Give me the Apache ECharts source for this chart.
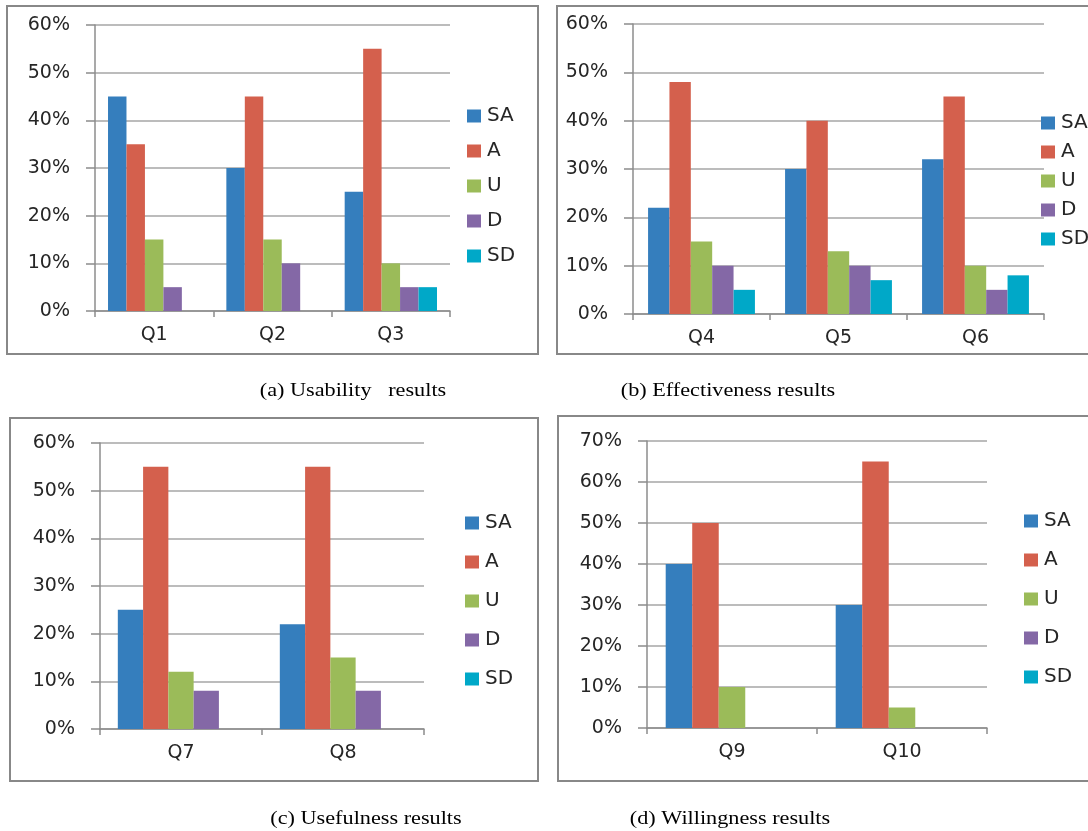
<!DOCTYPE html>
<html><head><meta charset="utf-8">
<script src="https://cdn.jsdelivr.net/npm/echarts@6/dist/echarts.min.js"></script>
<style>html,body{margin:0;padding:0;background:#fff}#c{width:1088px;height:831px}</style>
</head><body><div id="c"></div>
<script>
const seriesNames = ['SA','A','U','D','SD'];
const colors = ['#357ebd','#d4604d','#9bbb59','#8468a6','#00a8c8'];

const catA = ['Q1','Q2','Q3'];
const SA_a = [45,30,25], A_a = [35,45,55], U_a = [15,15,10], D_a = [5,10,5], SD_a = [0,0,5];
const catB = ['Q4','Q5','Q6'];
const SA_b = [22,30,32], A_b = [48,40,45], U_b = [15,13,10], D_b = [10,10,5], SD_b = [5,7,8];
const catC = ['Q7','Q8'];
const SA_c = [25,22], A_c = [55,55], U_c = [12,15], D_c = [8,8], SD_c = [0,0];
const catD = ['Q9','Q10'];
const SA_d = [40,30], A_d = [50,65], U_d = [10,5], D_d = [0,0], SD_d = [0,0];

const yMaxA = 60, yMaxB = 60, yMaxC = 60, yMaxD = 70;
const captions = ['(a) Usability   results','(b) Effectiveness results','(c) Usefulness results','(d) Willingness results'];

const panels = [
  {cats: catA, data:[SA_a,A_a,U_a,D_a,SD_a], max:yMaxA,
   grid:{left:95,top:25,width:355,height:286}, legend:{left:462,top:101,itemGap:15},
   border:[7,6,531,348], cap:[353,391]},
  {cats: catB, data:[SA_b,A_b,U_b,D_b,SD_b], max:yMaxB,
   grid:{left:633,top:24,width:411,height:290}, legend:{left:1036,top:108,itemGap:9},
   border:[557,6,540,348], cap:[728,391]},
  {cats: catC, data:[SA_c,A_c,U_c,D_c,SD_c], max:yMaxC,
   grid:{left:100,top:443,width:324,height:286}, legend:{left:460,top:508,itemGap:19},
   border:[10,418,528,363], cap:[366,819]},
  {cats: catD, data:[SA_d,A_d,U_d,D_d,SD_d], max:yMaxD,
   grid:{left:647,top:441,width:340,height:287}, legend:{left:1019,top:506,itemGap:19},
   border:[558,416,540,365], cap:[730,819]}
];

const axisFont = 'DejaVu Sans';
const option = {
  animation:false,
  color: colors,
  grid: [], xAxis: [], yAxis: [], series: [], legend: [], graphic: []
};

panels.forEach((p,i)=>{
  option.grid.push(Object.assign({containLabel:false}, p.grid));
  option.xAxis.push({
    type:'category', gridIndex:i, data:p.cats,
    axisLine:{show:true, lineStyle:{color:'#8c8c8c', width:1.5}},
    axisTick:{show:true, alignWithLabel:false, length:6, lineStyle:{color:'#8c8c8c', width:1.5}},
    axisLabel:{color:'#262626', fontFamily:axisFont, fontSize:19, margin:15},
    splitLine:{show:false}
  });
  option.yAxis.push({
    type:'value', gridIndex:i, min:0, max:p.max, interval:10,
    axisLine:{show:true, lineStyle:{color:'#8c8c8c', width:1.5}},
    axisTick:{show:true, length:9, lineStyle:{color:'#8c8c8c', width:1.5}},
    axisLabel:{color:'#262626', fontFamily:axisFont, fontSize:19, margin:25, formatter:'{value}%'},
    splitLine:{show:true, lineStyle:{color:'#a6a6a6', width:1.5}}
  });
  seriesNames.forEach((n,k)=>{
    option.series.push({
      type:'bar', name:n, xAxisIndex:i, yAxisIndex:i, data:p.data[k],
      barGap:'0%', barCategoryGap:'22%',
      itemStyle:{color:colors[k]}
    });
  });
  option.legend.push({
    orient:'vertical', left:p.legend.left, top:p.legend.top, itemGap:p.legend.itemGap,
    itemWidth:14, itemHeight:13, icon:'rect', data:seriesNames,
    textStyle:{color:'#262626', fontFamily:axisFont, fontSize:20, lineHeight:20, padding:[0,0,0,1]},
    selectedMode:false
  });
  const b = p.border;
  option.graphic.push({type:'rect', shape:{x:b[0],y:b[1],width:b[2],height:b[3]},
    style:{fill:'none', stroke:'#888', lineWidth:2}, silent:true, z:-1});
  option.graphic.push({type:'text', x:p.cap[0], y:p.cap[1], scaleX:1.17,
    style:{text:captions[i], fill:'#000', font:'19px "Liberation Serif"', textAlign:'center', textVerticalAlign:'middle'}});
});

const chart = echarts.init(document.getElementById('c'), null, {renderer:'canvas'});
chart.setOption(option);
</script>
</body></html>
